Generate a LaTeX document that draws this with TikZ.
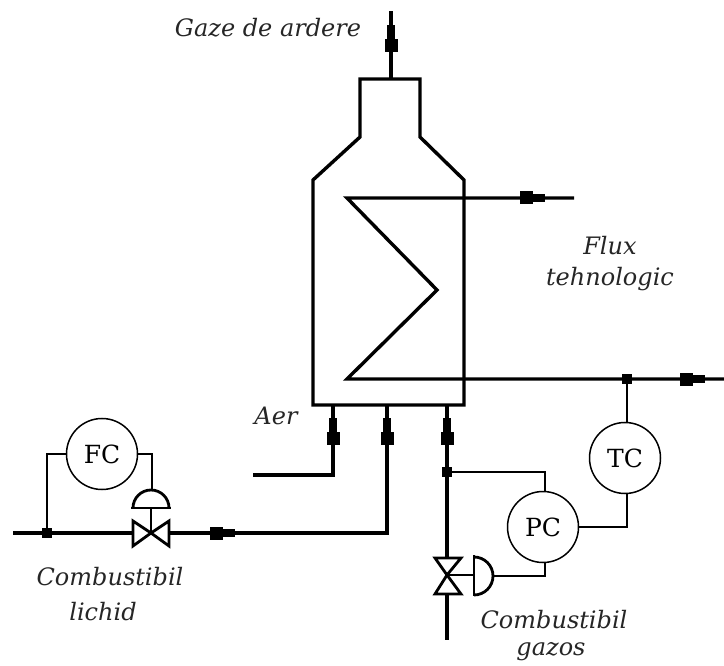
\documentclass[tikz,border=0pt]{standalone}
\usepackage{fontspec}
\setmainfont{DejaVu Serif}
\usetikzlibrary{calc}
\tikzset{
  x=1pt,y=-1pt,
  pipe/.style={line width=3.4pt,line cap=butt,line join=miter},
  signal/.style={line width=1.8pt,line join=miter},
  ctrl/.style={circle,draw,line width=1.5pt,minimum size=71pt,inner sep=0pt,font=\fontsize{25}{25}\selectfont},
  junction/.style={rectangle,fill=black,minimum size=10pt,inner sep=0pt},
  wide/.style={rectangle,fill=black,inner sep=0pt},
  lbl/.style={font=\fontsize{24}{31}\selectfont\itshape,inner sep=0pt,align=center,text=black!85},
  valve/.style={line width=2.8pt,line join=miter},
}
\newcommand{\arrowright}[2]{%
  \node[wide,minimum width=13pt,minimum height=13pt,anchor=west] at (#1,#2) {};
  \node[wide,minimum width=13pt,minimum height=7.5pt,anchor=west] at (#1+12,#2) {};}
\newcommand{\arrowup}[2]{%
  \node[wide,minimum width=13pt,minimum height=13pt,anchor=south] at (#1,#2) {};
  \node[wide,minimum width=7.5pt,minimum height=15pt,anchor=south] at (#1,#2-12) {};}
\begin{document}
\begin{tikzpicture}
\useasboundingbox[fill=white] (0,0) rectangle (724,666);
% coordinates
\coordinate (gasTop) at (391,11);
\coordinate (gasBase) at (391,79);
\coordinate (coilOutEnd) at (574,198);
\coordinate (coilA) at (347,198);
\coordinate (coilB) at (437,290);
\coordinate (coilC) at (347,379);
\coordinate (coilInEnd) at (724,379);
\coordinate (airStart) at (253,475);
\coordinate (airCorner) at (333,475);
\coordinate (airEnd) at (333,405);
\coordinate (liqStart) at (13,533);
\coordinate (liqCorner) at (387,533);
\coordinate (liqEnd) at (387,405);
\coordinate (gasEnd) at (447,405);
\coordinate (gasStart) at (447,640);
\coordinate (vL) at (151,533);
\coordinate (vG) at (447,575);
% vessel
\draw[pipe] (313,405) -- (313,180) -- (360,137) -- (360,79) -- (420,79) -- (420,137) -- (464,180) -- (464,405) -- cycle;
% pipes
\draw[pipe] (gasBase) -- (gasTop);
\draw[pipe] (coilOutEnd) -- (coilA) -- (coilB) -- (coilC) -- (coilInEnd);
\draw[pipe] (airStart) -- (airCorner) -- (airEnd);
\draw[pipe] (liqStart) -- (132,533);
\draw[pipe] (170,533) -- (liqCorner) -- (liqEnd);
\draw[pipe] (gasEnd) -- (447,557);
\draw[pipe] (447,595) -- (gasStart);
% flow arrows
\arrowup{391}{52}
\arrowright{520}{198}
\arrowright{680}{379}
\arrowright{210}{533}
\arrowup{333}{445}
\arrowup{387}{445}
\arrowup{447}{445}
% controllers
\node[ctrl] (FC) at (102,454) {FC};
\node[ctrl] (PC) at (543,527) {PC};
\node[ctrl] (TC) at (625,458) {TC};
% junctions
\node[junction] (jL) at (47,533) {};
\node[junction] (jG) at (447,472) {};
\node[junction] (jT) at (627,379) {};
% liquid valve
\draw[valve] (vL) -- (133,521) -- (133,546) -- cycle;
\draw[valve] (vL) -- (169,521) -- (169,546) -- cycle;
\draw[valve] (vL) -- (151,508);
\draw[valve] (131,508) -- (171,508);
\draw[valve] (133,508) arc[start angle=180,end angle=360,radius=18];
% gas valve
\draw[valve] (vG) -- (435,558) -- (461,558) -- cycle;
\draw[valve] (vG) -- (435,594) -- (461,594) -- cycle;
\draw[valve] (474,555) -- (474,596);
\draw[valve] (474,557) arc[start angle=-90,end angle=90,radius=19];
\draw[signal] (vG) -- (474,575);
% signal lines
\draw[signal] (FC.west) -- (47,454) -- (jL);
\draw[signal] (FC.east) -- (152,454) -- (152,489);
\draw[signal] (jG) -- (545,472) -- (545,491);
\draw[signal] (545,562) -- (545,576) -- (493,576);
\draw[signal] (PC.east) -- (627,527) -- (627,493);
\draw[signal] (jT) -- (627,423);
% labels
\node[lbl] (t1) at (268,28) {Gaze de ardere};
\node[lbl] (t2) at (610,264) {Flux\\tehnologic};
\node[lbl] (t3) at (276,416) {Aer};
\node[lbl] (t4) at (110,577) {Combustibil};
\node[lbl] (t5) at (103,612) {lichid};
\node[lbl] (t6) at (554,620) {Combustibil};
\node[lbl] (t7) at (551,652) {gazos};
\end{tikzpicture}
\end{document}
